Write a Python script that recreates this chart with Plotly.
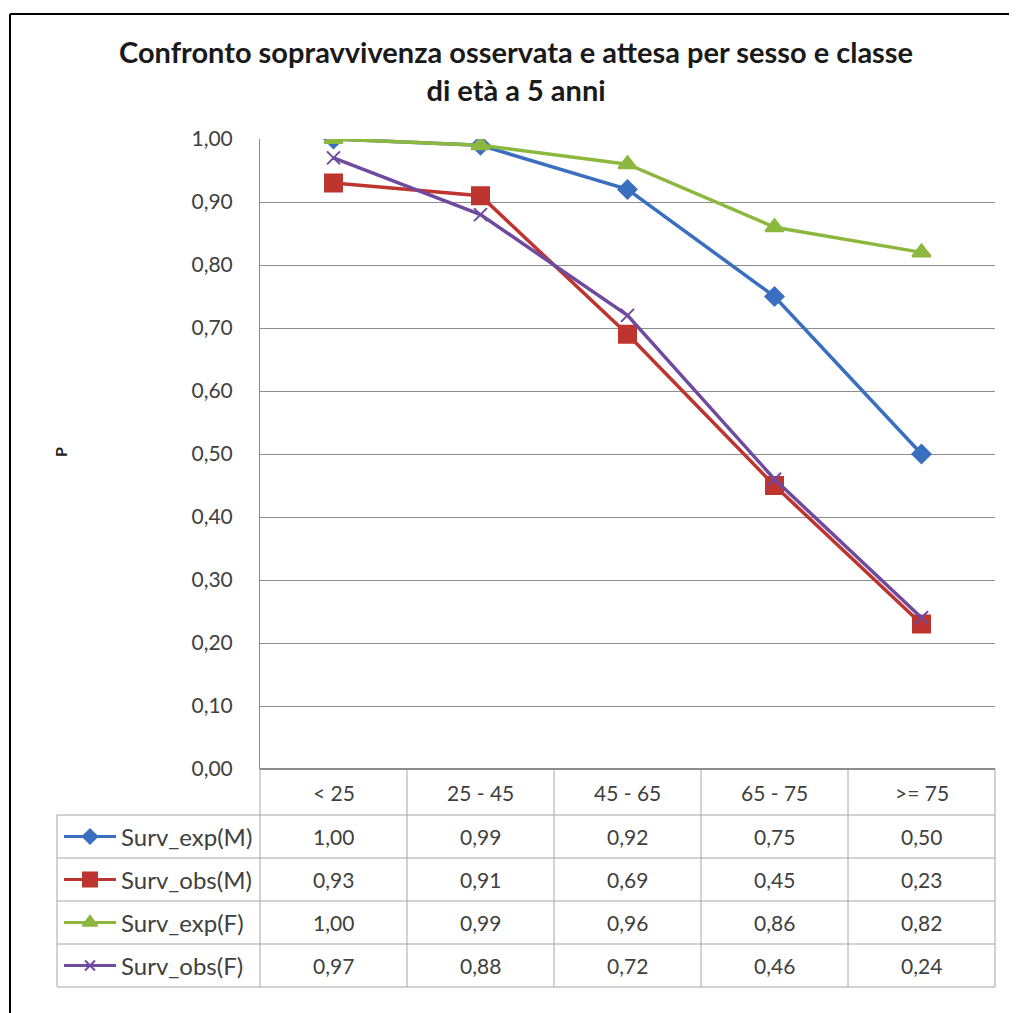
import plotly.graph_objects as go

categories = ["< 25", "25 - 45", "45 - 65", "65 - 75", ">= 75"]
series_names = ["Surv_exp(M)", "Surv_obs(M)", "Surv_exp(F)", "Surv_obs(F)"]
surv_exp_m = [1.00, 0.99, 0.92, 0.75, 0.50]
surv_obs_m = [0.93, 0.91, 0.69, 0.45, 0.23]
surv_exp_f = [1.00, 0.99, 0.96, 0.86, 0.82]
surv_obs_f = [0.97, 0.88, 0.72, 0.46, 0.24]
y_ticks = [0.0, 0.1, 0.2, 0.3, 0.4, 0.5, 0.6, 0.7, 0.8, 0.9, 1.0]

# page body has an 8px margin, so the figure is drawn 8px in from the corner
OFF = 8
W, H = 1017 - OFF, 1013 - OFF
FONT = "Lato"
GRID = "#8c8c8c"
TABLE_LINE = "#a6a6a6"
TEXT = "#404040"


def px(x):
    return (x - OFF) / W


def py(y):
    return 1 - (y - OFF) / H


# plot area in screen pixels
L, R, T, B = 260, 995, 139, 769
# table rows (screen pixels)
row_edges = [815, 858, 901, 944, 987]
LEG_L = 57

styles = [
    dict(color="#3a6fbf", symbol="diamond", size=14),
    dict(color="#be3530", symbol="square", size=17),
    dict(color="#8db83f", symbol="triangle-up", size=16),
    dict(color="#6f4a9e", symbol="x-thin", size=13),
]
values = [surv_exp_m, surv_obs_m, surv_exp_f, surv_obs_f]

fig = go.Figure()

for name, vals, st in zip(series_names, values, styles):
    fig.add_trace(go.Scatter(
        x=categories, y=vals, name=name, mode="lines+markers",
        line=dict(color=st["color"], width=3.5),
        marker=dict(color=st["color"], symbol=st["symbol"], size=st["size"],
                    line=dict(color=st["color"], width=2)),
        showlegend=False, xaxis="x", yaxis="y",
    ))

# legend keys inside the data table (own small axes)
for i, (name, st) in enumerate(zip(series_names, styles)):
    fig.add_trace(go.Scatter(
        x=[0, 1], y=[i, i], mode="lines",
        line=dict(color=st["color"], width=3),
        showlegend=False, xaxis="x2", yaxis="y2", hoverinfo="skip",
    ))
    fig.add_trace(go.Scatter(
        x=[0.5], y=[i], mode="markers",
        marker=dict(color=st["color"], symbol=st["symbol"], size=st["size"] - 3,
                    line=dict(color=st["color"], width=2)),
        showlegend=False, xaxis="x2", yaxis="y2", hoverinfo="skip",
    ))

shapes = []
# outer frame (left and top edges visible)
shapes.append(dict(type="line", xref="paper", yref="paper", x0=px(10), x1=px(10),
                   y0=py(14), y1=py(1020), line=dict(color="black", width=2)))
shapes.append(dict(type="line", xref="paper", yref="paper", x0=px(10), x1=px(1025),
                   y0=py(14), y1=py(14), line=dict(color="black", width=2)))

# table grid
col_edges = [L + k * (R - L) / len(categories) for k in range(len(categories) + 1)]
for xe in col_edges:
    shapes.append(dict(type="line", xref="paper", yref="paper", x0=px(xe), x1=px(xe),
                       y0=py(B), y1=py(row_edges[-1]), line=dict(color=TABLE_LINE, width=1)))
shapes.append(dict(type="line", xref="paper", yref="paper", x0=px(LEG_L), x1=px(LEG_L),
                   y0=py(row_edges[0]), y1=py(row_edges[-1]), line=dict(color=TABLE_LINE, width=1)))
shapes.append(dict(type="line", xref="paper", yref="paper", x0=px(L), x1=px(R),
                   y0=py(B), y1=py(B), line=dict(color=GRID, width=2)))
for ye in row_edges:
    shapes.append(dict(type="line", xref="paper", yref="paper", x0=px(LEG_L), x1=px(R),
                       y0=py(ye), y1=py(ye), line=dict(color=TABLE_LINE, width=1)))

annotations = []
cell_font = dict(family=FONT, size=21, color=TEXT)
# header row
for c in categories:
    annotations.append(dict(x=c, y=py((B + row_edges[0]) / 2), xref="x", yref="paper",
                            xanchor="center", yanchor="middle",
                            text=c, showarrow=False, font=cell_font))
# value rows
for i, (name, vals) in enumerate(zip(series_names, values)):
    yc = py((row_edges[i] + row_edges[i + 1]) / 2)
    annotations.append(dict(x=px(119), y=yc, xref="paper", yref="paper",
                            xanchor="left", yanchor="middle",
                            text=name, showarrow=False,
                            font=dict(family=FONT, size=24, color=TEXT)))
    for c, v in zip(categories, vals):
        annotations.append(dict(x=c, y=yc, xref="x", yref="paper",
                                xanchor="center", yanchor="middle",
                                text=f"{v:.2f}".replace(".", ","), showarrow=False,
                                font=cell_font))

# y axis title
annotations.append(dict(x=px(60), y=py(452), xref="paper", yref="paper", text="<b>P</b>",
                        xanchor="center", yanchor="middle",
                        textangle=-90, showarrow=False, font=dict(family=FONT, size=16, color="#222")))

# title, two lines
annotations.append(dict(x=px(516), y=py(70), xref="paper", yref="paper",
                        xanchor="center", yanchor="middle", showarrow=False,
                        text="<b>Confronto sopravvivenza osservata e attesa per sesso e classe<br>di età a 5 anni</b>",
                        font=dict(family=FONT, size=29, color="#1a1a1a")))

fig.update_layout(
    width=W, height=H,
    margin=dict(l=0, r=0, t=0, b=0),
    paper_bgcolor="white", plot_bgcolor="white",
    separators=",.",
    xaxis=dict(domain=[px(L), px(R)], type="category", range=[-0.5, 4.5],
               showticklabels=False, showgrid=False, zeroline=False, automargin=False),
    yaxis=dict(domain=[py(B), py(T)], range=[0, 1], tickvals=y_ticks, tickformat=".2f",
               showgrid=True, gridcolor=GRID, gridwidth=1, zeroline=False,
               showline=True, linecolor=GRID, linewidth=1,
               ticks="", ticklabelstandoff=22, automargin=False,
               tickfont=dict(family=FONT, size=21, color=TEXT)),
    xaxis2=dict(domain=[px(64), px(116)], range=[0, 1], visible=False, anchor="y2"),
    yaxis2=dict(domain=[py(row_edges[-1]), py(row_edges[0])], range=[3.5, -0.5],
                visible=False, anchor="x2"),
    shapes=shapes,
    annotations=annotations,
)

fig.write_html("out.html")
